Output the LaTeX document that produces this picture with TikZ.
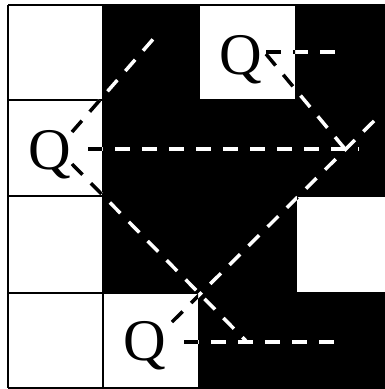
\documentclass[tikz,border=0pt]{standalone}
\usepackage{fontspec}
\setmainfont{Liberation Serif}
\begin{document}
\begin{tikzpicture}[x=1pt,y=-1pt,
  gridline/.style={line width=2pt, black},
  dashline/.style={line width=3.5pt, dash pattern=on 15pt off 12pt},
  qlabel/.style={anchor=base west, inner sep=0pt, font=\fontsize{59}{59}\selectfont}]
\useasboundingbox (0,0) rectangle (385,389);
\begin{scope}
\clip (0,0) rectangle (385,389);
% cells
\fill[black] (8,5) rectangle (392,388);
\fill[white] (8,5) rectangle (103,388);
\fill[white] (199,5) rectangle (296,100);
\fill[white] (296,196) rectangle (392,293);
\fill[white] (103,293) rectangle (199,388);
% grid
\foreach \gx in {8,103,199,296,392} \draw[gridline] (\gx,5) -- (\gx,388);
\foreach \gy in {5,100,196,293,388} \draw[gridline] (8,\gy) -- (392,\gy);
% labels
\node[qlabel] (qtop) at (219,74) {Q};
\node[qlabel] (qleft) at (28,169) {Q};
\node[qlabel] (qbot) at (123,360) {Q};
% ray end points
\coordinate (lA) at (72,132);
\coordinate (lAend) at (155,37);
\coordinate (lB) at (88,149);
\coordinate (lBend) at (359,149);
\coordinate (lC) at (72,164);
\coordinate (lCend) at (247,342);
\coordinate (bA) at (172,322);
\coordinate (bAend) at (378,117);
\coordinate (bB) at (184,342);
\coordinate (bBend) at (344,342);
\coordinate (tA) at (266,52);
\coordinate (tAend) at (342,52);
\coordinate (tB) at (266,54);
\coordinate (tBend) at (345,149);
\newcommand\drawrays[1]{%
  \draw[dashline,#1] (lA) -- (lAend);
  \draw[dashline,#1] (lB) -- (lBend);
  \draw[dashline,#1] (lC) -- (lCend);
  \draw[dashline,#1] (bA) -- (bAend);
  \draw[dashline,#1] (bB) -- (bBend);
  \draw[dashline,#1] (tA) -- (tAend);
  \draw[dashline,#1] (tB) -- (tBend);}
\drawrays{white}
\begin{scope}
\clip (9,6) rectangle (102,387)
      (200,6) rectangle (295,99)
      (297,197) rectangle (392,292)
      (104,294) rectangle (198,387);
\drawrays{black}
\end{scope}
\end{scope}
\end{tikzpicture}
\end{document}
